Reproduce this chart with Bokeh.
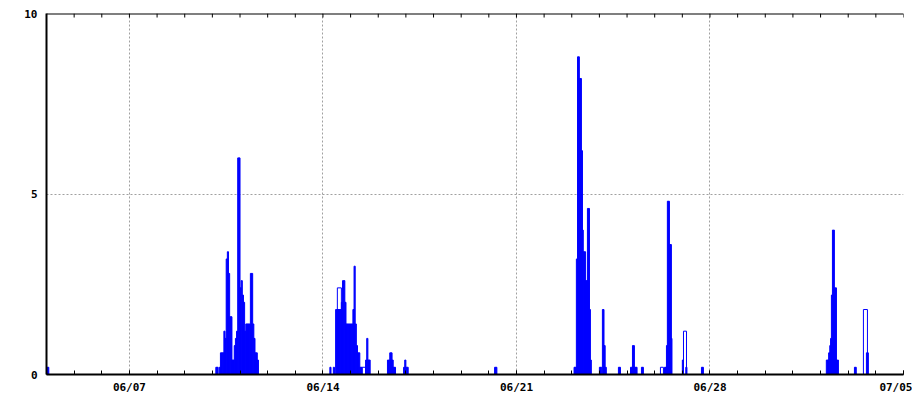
import pandas as pd
from bokeh.plotting import figure
from bokeh.models import FixedTicker, ColumnDataSource, Range1d
from bokeh.embed import file_html
from bokeh.resources import INLINE

# ---- data (hours since 06/04 00:00, box start / end, value) ----
start_date = "2024-06-04 00:00"
end_date = "2024-07-05 00:00"
tick_dates = ["2024-06-07", "2024-06-14", "2024-06-21", "2024-06-28", "2024-07-05"]
tick_labels = ["06/07", "06/14", "06/21", "06/28", "07/05"]
y_ticks = [0, 5, 10]

box_start = [
    0, 1,
    147, 148, 150, 151, 152, 153, 154, 155, 156, 157, 158, 159, 160, 161, 163, 164, 165,
    166, 167, 168, 169, 170, 171, 172, 173, 174, 176, 177, 178, 179, 180, 181, 183,
    246, 249, 251, 252, 252.5, 253, 254, 255, 256, 257, 258, 259,
    260, 261, 262, 263, 264, 265, 266, 267, 268, 269, 270, 271, 272, 273, 274, 277, 278, 279,
    296, 297, 298, 300, 301, 302, 310, 311, 312,
    389, 390,
    458, 459, 460, 461, 462.6, 464.4, 465.3, 466, 467, 468, 469.6, 470.5, 471.4, 472.2,
    480, 481, 482.6, 484, 485, 496.5, 497.5, 507, 508.7, 509.5, 510.4, 511.5, 516.5, 517.4,
    533, 536.5, 537.4, 538.2, 539, 539.9, 540.8, 542, 552, 553, 555, 568.6, 569.5,
    677, 679, 680, 680.7, 681.4, 682.3, 683.2, 684, 685.8, 686.7,
    701.4, 702.2, 709.2, 711.8, 712.7,
]
box_end = [
    1, 2,
    148, 149, 151, 152, 153, 154, 155, 156, 157, 158, 159, 160, 161, 163, 164, 165, 166,
    167, 168, 169, 170, 171, 172, 173, 174, 176, 177, 178, 179, 180, 181, 183, 184,
    247, 250, 252, 253, 256, 254, 255, 256, 257, 258, 259, 260,
    261, 262, 263, 264, 265, 266, 267, 268, 269, 270, 271, 272, 273, 274, 277, 278, 279, 281,
    297, 298, 300, 301, 302, 303, 311, 312, 314,
    390, 391,
    459, 460, 461, 462.6, 464.4, 465.3, 466, 467, 468, 469.6, 470.5, 471.4, 472.2, 473,
    481, 482, 484, 485, 486, 497.5, 498.3, 508.7, 509.5, 510.4, 511.5, 512.7, 517.4, 518.2,
    535.6, 537.4, 538.2, 539, 539.9, 540.8, 542.5, 543, 553, 555.6, 556, 569.5, 570.3,
    679, 680, 680.7, 681.4, 682.3, 683.2, 684, 685.8, 686.7, 687.5,
    702.2, 703, 712.7, 712.7, 713.5,
]
box_value = [
    0.2, 0.2,
    0.2, 0.2, 0.2, 0.6, 0.6, 0.6, 1.2, 1.0, 3.2, 3.4, 2.8, 1.6, 1.6, 0.4, 0.8, 1.0, 1.2,
    6.0, 6.0, 2.4, 2.6, 2.2, 2.0, 1.2, 1.4, 1.4, 1.4, 2.8, 2.8, 1.4, 1.0, 0.6, 0.4,
    0.2, 0.2, 1.8, 1.8, 2.4, 1.8, 1.8, 1.8, 2.0, 2.6, 2.6, 2.0,
    1.4, 1.4, 1.4, 1.4, 1.4, 1.4, 1.8, 3.0, 1.4, 0.8, 0.6, 0.6, 0.2, 0.2, 0.2, 0.4, 1.0, 0.4,
    0.4, 0.4, 0.6, 0.4, 0.2, 0.2, 0.2, 0.4, 0.2,
    0.2, 0.2,
    0.2, 0.2, 3.2, 8.8, 8.2, 6.2, 4.0, 3.4, 3.4, 2.6, 4.6, 4.6, 1.8, 0.4,
    0.2, 0.2, 1.8, 0.8, 0.2, 0.2, 0.2, 0.2, 0.8, 0.8, 0.2, 0.2, 0.2, 0.2,
    0.2, 0.2, 0.2, 0.8, 4.8, 4.8, 3.6, 1.0, 0.4, 1.2, 0.2, 0.2, 0.2,
    0.4, 0.6, 0.8, 1.0, 2.2, 4.0, 4.0, 2.4, 0.4, 0.4,
    0.2, 0.2, 1.8, 0.6, 0.6,
]

# ---- layout ----
W, H = 912, 398
LEFT, RIGHT, TOP, BOTTOM = 46, 903, 13, 374
base = pd.Timestamp(start_date)
total_h = (pd.Timestamp(end_date) - base) / pd.Timedelta(hours=1)
tick_h = [(pd.Timestamp(d) - base) / pd.Timedelta(hours=1) for d in tick_dates]
day_h = [float(h) for h in range(0, int(total_h) + 1, 24)]

px_per_h = (RIGHT - LEFT) / total_h
fills = ["#0000ff" if (e - s) * px_per_h < 2.5 else None for s, e in zip(box_start, box_end)]

src = ColumnDataSource(dict(left=box_start, right=box_end, top=box_value,
                            bottom=[0] * len(box_value), fill=fills))

p = figure(width=W, height=H, output_backend="svg", toolbar_location=None,
           x_range=Range1d(0, total_h), y_range=Range1d(0, 10),
           min_border_left=LEFT, min_border_right=W - RIGHT, min_border_top=TOP,
           min_border_bottom=H - BOTTOM)
p.outline_line_color = None
p.background_fill_color = "white"
p.border_fill_color = "white"

# top border with inward daily ticks (no labels)
tick_len = 10 * 4 / (BOTTOM - TOP)
p.segment(x0=day_h, x1=day_h, y0=[10] * len(day_h), y1=[10 - tick_len] * len(day_h),
          line_color="black", line_width=1)
p.segment(x0=[0], x1=[total_h], y0=[10], y1=[10], line_color="black", line_width=2)

p.quad(left="left", right="right", top="top", bottom="bottom", source=src,
       fill_color="fill", line_color="#0000ff", line_width=1)

font = "DejaVu Sans Mono"
xa = p.xaxis[0]
xa.ticker = FixedTicker(ticks=tick_h, minor_ticks=day_h)
xa.major_label_overrides = {t: l for t, l in zip(tick_h, tick_labels)}
xa.major_label_text_font = font
xa.major_label_text_font_style = "bold"
xa.major_label_text_font_size = "11px"
xa.major_label_text_color = "black"
xa.major_label_standoff = 6
xa.major_tick_in = 4
xa.major_tick_out = 0
xa.minor_tick_in = 4
xa.minor_tick_out = 0
xa.axis_line_color = "black"
xa.axis_line_width = 2

ya = p.yaxis[0]
ya.ticker = FixedTicker(ticks=y_ticks)
ya.major_label_text_font = font
ya.major_label_text_font_style = "bold"
ya.major_label_text_font_size = "11px"
ya.major_label_text_color = "black"
ya.major_label_standoff = 9
ya.major_tick_in = 0
ya.major_tick_out = 0
ya.minor_tick_line_color = None
ya.axis_line_color = "black"
ya.axis_line_width = 2

for g in (p.xgrid[0], p.ygrid[0]):
    g.grid_line_color = "#a0a0a0"
    g.grid_line_dash = "2 2"
    g.grid_line_width = 1

open("out.html", "w").write(file_html(p, INLINE))
